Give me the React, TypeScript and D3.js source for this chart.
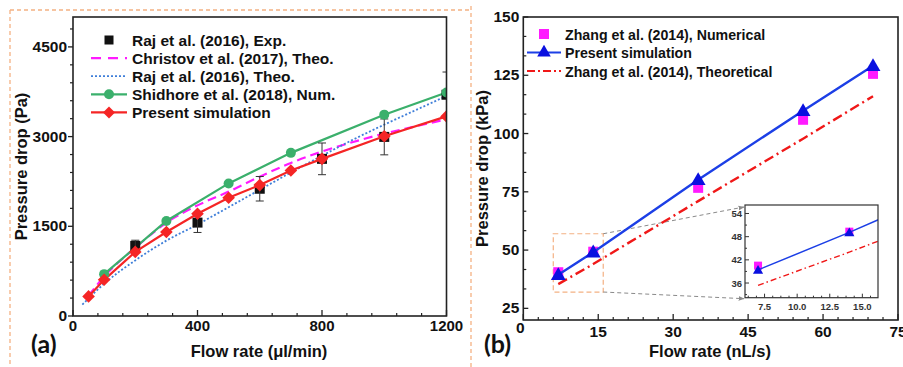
import React from 'react';
import * as d3 from 'd3';

// ---------- Panel (a) data ----------
const rajExpX = [200, 400, 600, 800, 1000, 1200];
const rajExpY = [1172, 1562, 2128, 2628, 2995, 3700];
const rajExpErr = [95, 165, 205, 265, 300, 380];

const christovX = [50, 100, 200, 300, 400, 500, 600, 700, 800, 900, 1000, 1100, 1200];
const christovY = [340, 660, 1140, 1560, 1850, 2080, 2330, 2560, 2750, 2910, 3050, 3170, 3290];

const rajTheoX = [30, 100, 200, 300, 400, 500, 600, 700, 800, 900, 1000, 1100, 1200];
const rajTheoY = [190, 540, 930, 1260, 1530, 1820, 2110, 2400, 2680, 2950, 3200, 3440, 3680];

const shidhoreX = [100, 300, 500, 700, 1000, 1200];
const shidhoreY = [700, 1589, 2217, 2728, 3367, 3738];

const presentAX = [50, 100, 200, 300, 400, 500, 600, 700, 800, 1000, 1200];
const presentAY = [328, 605, 1072, 1405, 1711, 1978, 2189, 2433, 2628, 3005, 3338];

const ticksAX = [0, 400, 800, 1200];
const ticksAY = [0, 1500, 3000, 4500];

const legendA = [
  'Raj et al. (2016), Exp.',
  'Christov et al. (2017), Theo.',
  'Raj et al. (2016), Theo.',
  'Shidhore et al. (2018), Num.',
  'Present simulation',
];

// ---------- Panel (b) data ----------
const zhangNumX = [7, 14, 35, 56, 70];
const zhangNumY = [40.5, 49.3, 76.7, 105.9, 125.6];

const presentBX = [7, 14, 35, 56, 70];
const presentBY = [39.4, 49.1, 80.2, 109.8, 129.1];

const zhangTheoX = [7, 14, 35, 56, 70];
const zhangTheoY = [35.4, 44.0, 71.0, 97.8, 116.0];

const ticksBX = [0, 15, 30, 45, 60, 75];
const ticksBY = [25, 50, 75, 100, 125, 150];
const ticksIX = [7.5, 10, 12.5, 15];
const ticksIY = [36, 42, 48, 54];

const legendB = [
  'Zhang et al. (2014), Numerical',
  'Present simulation',
  'Zhang et al. (2014), Theoretical',
];

const FONT = "'Liberation Sans', Arial, sans-serif";
const ORANGE = '#f4b183';

const C_MAG = '#ff1aff';
const C_BLUEDOT = '#3f7fd9';
const C_GREEN = '#3bb06c';
const C_RED = '#f52525';
const C_BLUE = '#1c3fe6';
const C_TRI = '#0a10e0';
const C_REDB = '#f01818';

function pts(xs: number[], ys: number[]): [number, number][] {
  return xs.map((x, i) => [x, ys[i]] as [number, number]);
}

export default function App() {
  const xA = d3.scaleLinear().domain([0, 1200]).range([73, 446.5]);
  const yA = d3.scaleLinear().domain([0, 5000]).range([316, 17]);
  const xB = d3.scaleLinear().domain([0, 75]).range([523.3, 898]);
  const yB = d3.scaleLinear().domain([20, 150]).range([320, 17]);
  const xI = d3.scaleLinear().domain([6, 16.2]).range([745, 878]);
  const yI = d3.scaleLinear().domain([32.2, 56.2]).range([297.7, 205]);

  const lineA = d3.line<[number, number]>().x(d => xA(d[0])).y(d => yA(d[1]));
  const curveA = d3.line<[number, number]>().x(d => xA(d[0])).y(d => yA(d[1])).curve(d3.curveMonotoneX);
  const lineB = d3.line<[number, number]>().x(d => xB(d[0])).y(d => yB(d[1]));
  const lineI = d3.line<[number, number]>().x(d => xI(d[0])).y(d => yI(d[1]));

  const tri = d3.symbol().type(d3.symbolTriangle);

  const [ax0, ax1] = xA.range();
  const [ay0, ay1] = yA.range();
  const [bx0, bx1] = xB.range();
  const [by0, by1] = yB.range();
  const [ix0, ix1] = xI.range();
  const [iy0, iy1] = yI.range();

  const minorAX = d3.range(0, 1201, 80).filter(v => !ticksAX.includes(v));
  const minorAY = d3.range(0, 5001, 300).filter(v => !ticksAY.includes(v));
  const minorBX = d3.range(0, 76, 3).filter(v => !ticksBX.includes(v));
  const minorBY = d3.range(25, 151, 25 / 3).map(v => Math.round(v * 1000) / 1000).filter(v => !ticksBY.some(t => Math.abs(t - v) < 0.01));
  const minorIX = d3.range(6.25, 16.2, 0.625).filter(v => !ticksIX.some(t => Math.abs(t - v) < 0.01));
  const minorIY = d3.range(33, 56.2, 3).filter(v => !ticksIY.includes(v));

  const diamond = (cx: number, cy: number, r: number) =>
    `M${cx},${cy - r}L${cx + r},${cy}L${cx},${cy + r}L${cx - r},${cy}Z`;

  return (
    <svg width={903} height={367} style={{ position: 'absolute', left: 0, top: 0, background: '#fff' }} fontFamily={FONT}>
      <defs>
        <clipPath id="clipA"><rect x={ax0} y={ay1} width={ax1 - ax0} height={ay0 - ay1} /></clipPath>
        <clipPath id="clipB"><rect x={bx0} y={by1} width={bx1 - bx0} height={by0 - by1} /></clipPath>
        <clipPath id="clipI"><rect x={ix0} y={iy1} width={ix1 - ix0} height={iy0 - iy1} /></clipPath>
        <marker id="arr" viewBox="0 0 10 10" refX="9" refY="5" markerWidth="6" markerHeight="6" orient="auto">
          <path d="M0,1L10,5L0,9Z" fill="#8a8a8a" />
        </marker>
      </defs>
      <rect x={0} y={0} width={903} height={367} fill="#fff" />

      {/* orange dashed frames */}
      <line x1={10} y1={10} x2={470} y2={10} stroke={ORANGE} strokeWidth={1.3} strokeDasharray="4,3" />
      <line x1={10} y1={10} x2={10} y2={367} stroke={ORANGE} strokeWidth={1.3} strokeDasharray="4,3" />
      <line x1={471} y1={6} x2={471} y2={367} stroke={ORANGE} strokeWidth={1.3} strokeDasharray="4,3" />

      {/* ================= PANEL A ================= */}
      <g clipPath="url(#clipA)">
        <path d={curveA(pts(christovX, christovY)) || ''} fill="none" stroke={C_MAG} strokeWidth={2.2} strokeDasharray="9,5" />
        <path d={curveA(pts(rajTheoX, rajTheoY)) || ''} fill="none" stroke={C_BLUEDOT} strokeWidth={1.8} strokeDasharray="2,2" />
        <path d={lineA(pts(shidhoreX, shidhoreY)) || ''} fill="none" stroke={C_GREEN} strokeWidth={2.2} />
        {rajExpX.map((x, i) => (
          <rect key={'re' + i} x={xA(x) - 5} y={yA(rajExpY[i]) - 5} width={10} height={10} fill="#111" />
        ))}
        {rajExpX.map((x, i) => {
          const cx = xA(x);
          const t = yA(rajExpY[i] + rajExpErr[i]);
          const b = yA(rajExpY[i] - rajExpErr[i]);
          return (
            <g key={'eb' + i} stroke="#333" strokeWidth={1}>
              <line x1={cx} x2={cx} y1={t} y2={b} />
              <line x1={cx - 4} x2={cx + 4} y1={t} y2={t} />
              <line x1={cx - 4} x2={cx + 4} y1={b} y2={b} />
            </g>
          );
        })}
        <path d={lineA(pts(presentAX, presentAY)) || ''} fill="none" stroke={C_RED} strokeWidth={2.2} />
        {shidhoreX.map((x, i) => (
          <circle key={'sh' + i} cx={xA(x)} cy={yA(shidhoreY[i])} r={5} fill={C_GREEN} />
        ))}
        {presentAX.map((x, i) => (
          <path key={'pa' + i} d={diamond(xA(x), yA(presentAY[i]), 6.3)} fill={C_RED} />
        ))}
      </g>

      <rect x={ax0} y={ay1} width={ax1 - ax0} height={ay0 - ay1} fill="none" stroke="#222" strokeWidth={1.6} />
      {ticksAX.map(v => (
        <g key={'tax' + v}>
          <line x1={xA(v)} x2={xA(v)} y1={ay0} y2={ay0 - 6} stroke="#222" strokeWidth={1.3} />
          <text x={xA(v)} y={ay0 + 15} textAnchor="middle" fontSize={15} fontWeight="bold" fill="#111">{v}</text>
        </g>
      ))}
      {minorAX.map(v => (
        <line key={'max' + v} x1={xA(v)} x2={xA(v)} y1={ay0} y2={ay0 - 3} stroke="#222" strokeWidth={1.2} />
      ))}
      {ticksAY.map(v => (
        <g key={'tay' + v}>
          <line x1={ax0 - 5} x2={ax0} y1={yA(v)} y2={yA(v)} stroke="#222" strokeWidth={1.3} />
          <text x={ax0 - 6} y={yA(v) + 5} textAnchor="end" fontSize={15.5} fontWeight="bold" fill="#111">{v}</text>
        </g>
      ))}
      {minorAY.map(v => (
        <line key={'may' + v} x1={ax0 - 3} x2={ax0} y1={yA(v)} y2={yA(v)} stroke="#222" strokeWidth={1.2} />
      ))}
      <text x={259} y={357} textAnchor="middle" fontSize={16.5} fontWeight="bold" fill="#111">Flow rate (μl/min)</text>
      <text transform={`translate(27,${(ay0 + ay1) / 2}) rotate(-90)`} textAnchor="middle" fontSize={16.5} fontWeight="bold" fill="#111">Pressure drop (Pa)</text>
      <text x={31} y={353} fontSize={25} fontWeight="bold" fontFamily="Lato, 'Open Sans', sans-serif" fill="#111">(a)</text>

      {legendA.map((t, i) => {
        const cy = 40 + i * 18.1;
        return (
          <g key={'la' + i}>
            {i === 0 && <rect x={109 - 4.5} y={cy - 4.5} width={9} height={9} fill="#111" />}
            {i === 1 && <line x1={91} x2={127} y1={cy} y2={cy} stroke={C_MAG} strokeWidth={2.2} strokeDasharray="10,7" />}
            {i === 2 && <line x1={91} x2={127} y1={cy} y2={cy} stroke={C_BLUEDOT} strokeWidth={1.8} strokeDasharray="2,2" />}
            {i === 3 && (
              <g>
                <line x1={91} x2={127} y1={cy} y2={cy} stroke={C_GREEN} strokeWidth={2.2} />
                <circle cx={109} cy={cy} r={5} fill={C_GREEN} />
              </g>
            )}
            {i === 4 && (
              <g>
                <line x1={91} x2={127} y1={cy} y2={cy} stroke={C_RED} strokeWidth={2.2} />
                <path d={diamond(109, cy, 6)} fill={C_RED} />
              </g>
            )}
            <text x={132} y={cy + 5.5} fontSize={15.5} fontWeight="bold" fill="#111">{t}</text>
          </g>
        );
      })}

      {/* ================= PANEL B ================= */}
      <rect x={xB(6)} y={yB(57)} width={xB(16) - xB(6)} height={yB(32) - yB(57)} fill="none" stroke={ORANGE} strokeWidth={1.2} strokeDasharray="5,3" />
      <line x1={xB(16)} y1={yB(57)} x2={ix0 - 1} y2={iy1 + 2} stroke="#8a8a8a" strokeWidth={1} strokeDasharray="4,3" markerEnd="url(#arr)" />
      <line x1={xB(16)} y1={yB(32)} x2={ix0 - 1} y2={iy0 + 1} stroke="#8a8a8a" strokeWidth={1} strokeDasharray="4,3" markerEnd="url(#arr)" />

      <g clipPath="url(#clipB)">
        <path d={lineB(pts(zhangTheoX, zhangTheoY)) || ''} fill="none" stroke={C_REDB} strokeWidth={2.4} strokeDasharray="10,4,2,4" />
        {zhangNumX.map((x, i) => (
          <rect key={'zn' + i} x={xB(x) - 5} y={yB(zhangNumY[i]) - 5} width={10} height={10} fill={C_MAG} />
        ))}
        <path d={lineB(pts(presentBX, presentBY)) || ''} fill="none" stroke={C_BLUE} strokeWidth={2.4} />
        {presentBX.map((x, i) => (
          <path key={'pb' + i} d={tri.size(95)() || ''} transform={`translate(${xB(x)},${yB(presentBY[i]) + 1})`} fill={C_TRI} />
        ))}
      </g>

      <rect x={bx0} y={by1} width={bx1 - bx0} height={by0 - by1} fill="none" stroke="#222" strokeWidth={1.6} />
      {ticksBX.map((v, i) => (
        <g key={'tbx' + v}>
          <line x1={xB(v)} x2={xB(v)} y1={by0} y2={by0 - 6} stroke="#222" strokeWidth={1.3} />
          <text x={xB(v) - (i === 0 ? 3 : 0)} y={by0 + (i === 0 ? 13 : 17)} textAnchor="middle" fontSize={15.5} fontWeight="bold" fill="#111">{v}</text>
        </g>
      ))}
      {minorBX.map(v => (
        <line key={'mbx' + v} x1={xB(v)} x2={xB(v)} y1={by0} y2={by0 - 3} stroke="#222" strokeWidth={1.2} />
      ))}
      {ticksBY.map(v => (
        <g key={'tby' + v}>
          <line x1={bx0} x2={bx0 + 5} y1={yB(v)} y2={yB(v)} stroke="#222" strokeWidth={1.3} />
          <text x={bx0 - 4} y={yB(v) + 5} textAnchor="end" fontSize={15.5} fontWeight="bold" fill="#111">{v}</text>
        </g>
      ))}
      {minorBY.map(v => (
        <line key={'mby' + v} x1={bx0} x2={bx0 + 3} y1={yB(v)} y2={yB(v)} stroke="#222" strokeWidth={1.2} />
      ))}
      <text x={710} y={357} textAnchor="middle" fontSize={16.5} fontWeight="bold" fill="#111">Flow rate (nL/s)</text>
      <text transform={`translate(488,${(by0 + by1) / 2}) rotate(-90)`} textAnchor="middle" fontSize={16.5} fontWeight="bold" fill="#111">Pressure drop (kPa)</text>
      <text x={484} y={353} fontSize={25} fontWeight="bold" fontFamily="Lato, 'Open Sans', sans-serif" fill="#111">(b)</text>

      {legendB.map((t, i) => {
        const cy = 34 + i * 18.5;
        return (
          <g key={'lb' + i}>
            {i === 0 && <rect x={544 - 5} y={cy - 5} width={10} height={10} fill={C_MAG} />}
            {i === 1 && (
              <g>
                <line x1={527} x2={561} y1={cy} y2={cy} stroke={C_BLUE} strokeWidth={2.2} />
                <path d={tri.size(80)() || ''} transform={`translate(544,${cy})`} fill={C_TRI} />
              </g>
            )}
            {i === 2 && <line x1={527} x2={561} y1={cy} y2={cy} stroke={C_REDB} strokeWidth={2} strokeDasharray="8,3,2,3" />}
            <text x={565} y={cy + 5.5} fontSize={14.2} fontWeight="bold" fill="#111">{t}</text>
          </g>
        );
      })}

      {/* ================= INSET ================= */}
      <rect x={ix0} y={iy1} width={ix1 - ix0} height={iy0 - iy1} fill="#fff" />
      <g clipPath="url(#clipI)">
        <path d={lineI(pts(zhangTheoX, zhangTheoY)) || ''} fill="none" stroke={C_REDB} strokeWidth={1.4} strokeDasharray="6,3,1.5,3" />
        {zhangNumX.map((x, i) => (
          <rect key={'izn' + i} x={xI(x) - 4} y={yI(zhangNumY[i]) - 4} width={8} height={8} fill={C_MAG} />
        ))}
        <path d={lineI(pts(presentBX, presentBY)) || ''} fill="none" stroke={C_BLUE} strokeWidth={1.5} />
        {presentBX.map((x, i) => (
          <path key={'ipb' + i} d={tri.size(45)() || ''} transform={`translate(${xI(x)},${yI(presentBY[i]) + 1})`} fill={C_TRI} />
        ))}
      </g>
      <rect x={ix0} y={iy1} width={ix1 - ix0} height={iy0 - iy1} fill="none" stroke="#333" strokeWidth={1.2} />
      {ticksIX.map(v => (
        <g key={'tix' + v}>
          <line x1={xI(v)} x2={xI(v)} y1={iy0} y2={iy0 - 4} stroke="#333" strokeWidth={1} />
          <text x={xI(v)} y={iy0 + 12} textAnchor="middle" fontSize={9.5} fontWeight="bold" fill="#333">{v.toFixed(1)}</text>
        </g>
      ))}
      {minorIX.map(v => (
        <line key={'mix' + v} x1={xI(v)} x2={xI(v)} y1={iy0} y2={iy0 - 2} stroke="#333" strokeWidth={1} />
      ))}
      {ticksIY.map(v => (
        <g key={'tiy' + v}>
          <line x1={ix0} x2={ix0 + 4} y1={yI(v)} y2={yI(v)} stroke="#333" strokeWidth={1} />
          <text x={ix0 - 3} y={yI(v) + 3.5} textAnchor="end" fontSize={9.5} fontWeight="bold" fill="#333">{v}</text>
        </g>
      ))}
      {minorIY.map(v => (
        <line key={'miy' + v} x1={ix0} x2={ix0 + 2} y1={yI(v)} y2={yI(v)} stroke="#333" strokeWidth={1} />
      ))}
    </svg>
  );
}
